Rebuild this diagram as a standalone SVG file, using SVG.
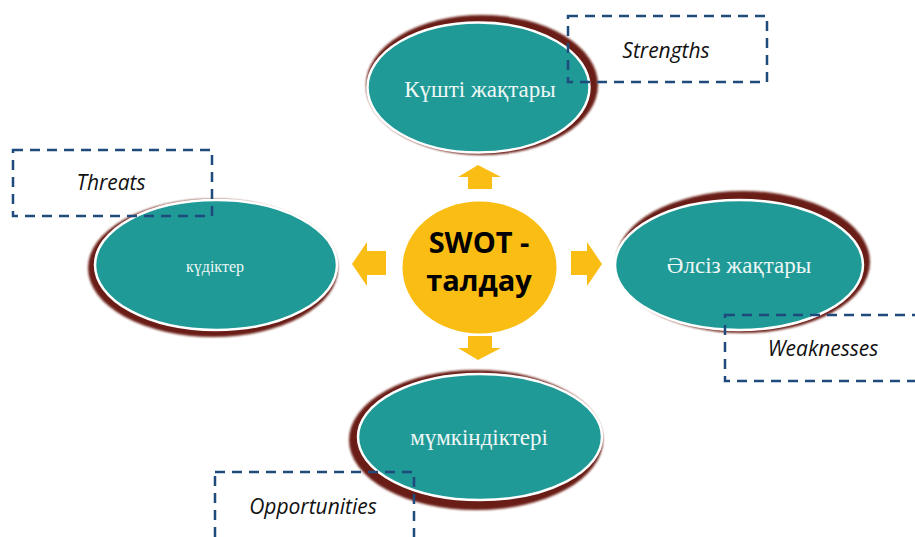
<svg xmlns="http://www.w3.org/2000/svg" width="915" height="537" viewBox="0 0 915 537">
  <defs>
    <filter id="soft" x="-10%" y="-10%" width="120%" height="120%">
      <feGaussianBlur stdDeviation="0.8"/>
    </filter>
  </defs>
  <style>
    .shadow { fill: #6a1d12; filter: url(#soft); }
    .oval { fill: #1f9a97; stroke: #ffffff; stroke-width: 2.5; }
    .otext { font-family: "Liberation Serif", "DejaVu Serif", serif; fill: #eef7f6; text-anchor: middle; }
    .box { fill: none; stroke: #1f4a7c; stroke-width: 2.5; stroke-dasharray: 10 7; }
    .label { font-family: "Open Sans", "Liberation Sans", sans-serif; font-style: italic; font-size: 21px; fill: #111111; text-anchor: middle; }
    .arrow { fill: #f9bd14; }
  </style>
  <rect width="915" height="537" fill="#ffffff"/>

  <g id="connectors">
    <polygon class="arrow" points="478,165 501,177 492,177 492,189 468,189 468,177 458,177"/>
    <polygon class="arrow" points="478,360 501,348 492,348 492,336 468,336 468,348 458,348"/>
    <polygon class="arrow" points="352,264 367,242 367,251 386,251 386,275 367,275 367,286"/>
    <polygon class="arrow" points="602,264 587,242 587,251 571,251 571,275 587,275 587,286"/>
  </g>

  <g id="center">
    <ellipse cx="479.5" cy="267.5" rx="77" ry="66" fill="#f9bd14"/>
    <text x="479" y="253" font-family="Open Sans, Liberation Sans, sans-serif" font-weight="bold" font-size="29" fill="#000" text-anchor="middle">SWOT -</text>
    <text x="479" y="291" font-family="Open Sans, Liberation Sans, sans-serif" font-weight="bold" font-size="29" fill="#000" text-anchor="middle">талдау</text>
  </g>

  <g id="strengths">
    <ellipse class="shadow" cx="482" cy="85" rx="116" ry="70"/>
    <ellipse class="oval" cx="478.5" cy="87.5" rx="111" ry="65"/>
    <text class="otext" x="480" y="97" font-size="23">Күшті жақтары</text>
  </g>
  <g id="strengths-label">
    <rect class="box" x="568" y="16" width="199" height="66"/>
    <text class="label" x="666" y="58">Strengths</text>
  </g>

  <g id="threats">
    <ellipse class="shadow" cx="213" cy="268" rx="125" ry="69"/>
    <ellipse class="oval" cx="216" cy="265" rx="121" ry="65"/>
    <text class="otext" x="215" y="272" font-size="16">күдіктер</text>
  </g>
  <g id="threats-label">
    <rect class="box" x="13" y="150" width="199" height="66"/>
    <text class="label" x="111" y="190">Threats</text>
  </g>

  <g id="weaknesses">
    <ellipse class="shadow" cx="743" cy="262" rx="127" ry="71"/>
    <ellipse class="oval" cx="739" cy="265" rx="124" ry="65"/>
    <text class="otext" x="739" y="273" font-size="23">Әлсіз жақтары</text>
  </g>
  <g id="weaknesses-label">
    <rect class="box" x="725" y="315" width="199" height="66"/>
    <text class="label" x="823" y="356">Weaknesses</text>
  </g>

  <g id="opportunities">
    <ellipse class="shadow" cx="476" cy="440" rx="127" ry="70"/>
    <ellipse class="oval" cx="480" cy="437" rx="122" ry="63"/>
    <text class="otext" x="479" y="445" font-size="23">мүмкіндіктері</text>
  </g>
  <g id="opportunities-label">
    <rect class="box" x="215" y="472" width="199" height="80"/>
    <text class="label" x="313" y="514">Opportunities</text>
  </g>
</svg>
